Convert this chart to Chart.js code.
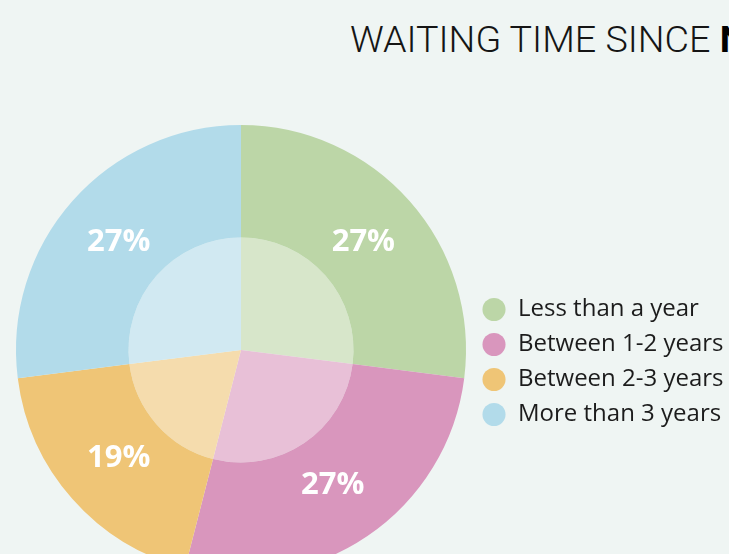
<!DOCTYPE html>
<html>
<head>
<meta charset="utf-8">
<script src="https://cdn.jsdelivr.net/npm/chart.js@4/dist/chart.umd.min.js"></script>
<style>
    html, body { margin: 0; padding: 0; width: 729px; height: 554px; overflow: hidden; background: #eff5f3; }
    #title {
        position: absolute; left: 350px; top: 21px; margin: 0;
        font: 300 37.7px/1 Roboto, sans-serif; color: #151515; white-space: nowrap;
    }
    #title b { font-weight: 700; color: #000; }
    #pie { position: absolute; left: 0; top: 0; }
</style>
</head>
<body>
<h1 id="title">WAITING TIME SINCE <b>NOMINATION</b></h1>
<canvas id="pie"></canvas>
<script>
const $ = id => document.getElementById(id);

const labels = ['Less than a year', 'Between 1-2 years', 'Between 2-3 years', 'More than 3 years'];
const shares = [27, 27, 19, 27];
const colors = ['#bcd6a7', '#d996bd', '#efc576', '#b2dbea'];

// lighter version of a colour for the inner disc
const lighten = (hex, a) => {
    const n = parseInt(hex.slice(1), 16);
    const c = [n >> 16, (n >> 8) & 255, n & 255].map(v => Math.round(v + (255 - v) * a));
    return `rgb(${c.join(',')})`;
};

const fontSize = 24, pad = 11;
const canvasW = 800, canvasH = 600;

// measure legend text so the pie area stays 460px wide
const m = document.createElement('canvas').getContext('2d');
m.font = `${fontSize}px "Open Sans"`;
const textW = Math.max(...labels.map(t => m.measureText(t).width));
const legendW = pad + fontSize + fontSize / 2 + textW + 10;
const padRight = canvasW - 11 - 460 - legendW;

const sliceLabels = {
    id: 'sliceLabels',
    afterDatasetsDraw(chart) {
        const ctx = chart.ctx;
        const meta = chart.getDatasetMeta(0);
        ctx.save();
        ctx.fillStyle = '#fff';
        ctx.font = 'bold 31px "Open Sans"';
        ctx.textAlign = 'center';
        ctx.textBaseline = 'middle';
        meta.data.forEach((arc, i) => {
            const {x, y, startAngle, endAngle, outerRadius} = arc.getProps(['x', 'y', 'startAngle', 'endAngle', 'outerRadius'], true);
            const mid = (startAngle + endAngle) / 2;
            const r = outerRadius * 0.725;
            ctx.fillText(shares[i] + '%', x + Math.cos(mid) * r, y + Math.sin(mid) * r);
        });
        ctx.restore();
    }
};

window.onload = () => {
    const cv = $('pie');
    cv.width = canvasW;
    cv.height = canvasH;
    Chart.defaults.font.family = '"Open Sans"';
    new Chart(cv.getContext('2d'), {
        type: 'pie',
        data: {
            labels: labels,
            datasets: [
                {
                    data: shares,
                    backgroundColor: colors,
                    borderWidth: 0,
                    clip: false
                },
                {
                    data: shares,
                    backgroundColor: colors.map(c => lighten(c, 0.4)),
                    borderWidth: 0,
                    clip: false
                }
            ]
        },
        options: {
            responsive: false,
            animation: false,
            layout: {
                padding: {top: 125, bottom: 25, left: 11, right: padRight}
            },
            plugins: {
                tooltip: {enabled: false},
                legend: {
                    position: 'right',
                    title: {display: true, text: '', font: {size: 1, lineHeight: 1}, padding: {top: 23, bottom: 0}},
                    labels: {
                        usePointStyle: true,
                        pointStyle: 'circle',
                        boxWidth: fontSize,
                        boxHeight: 16.3,
                        padding: pad,
                        color: '#1c1c1c',
                        font: {size: fontSize}
                    }
                }
            }
        },
        plugins: [sliceLabels]
    });
};
</script>
</body>
</html>
